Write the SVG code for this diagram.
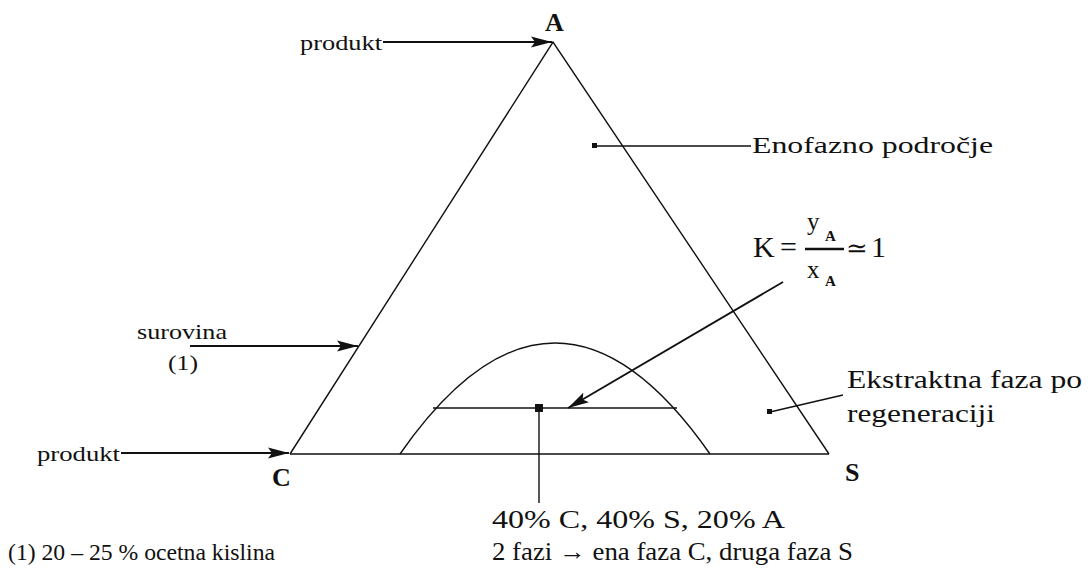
<svg xmlns="http://www.w3.org/2000/svg" width="1090" height="578" viewBox="0 0 1090 578">
<style>
  .t { font-family: "Liberation Serif", "Times New Roman", serif; fill: #111; }
  .b { font-weight: bold; }
  .ln { stroke: #111; stroke-width: 1.4; fill: none; }
  .ar { stroke: #111; stroke-width: 1.8; fill: none; marker-end: url(#ah); }
</style>
<defs>
  <marker id="ah" markerWidth="22" markerHeight="12" refX="21" refY="6" orient="auto" markerUnits="userSpaceOnUse">
    <path d="M0,0.5 L21,6 L0,11.5 L4,6 z" fill="#111"/>
  </marker>
</defs>
<rect width="1090" height="578" fill="#fff"/>

<g id="triangle">
  <polyline class="ln" points="290,454 553,42 829,454"/>
  <line class="ln" x1="290" y1="454" x2="829" y2="454"/>
</g>
<g id="binodal">
  <path class="ln" d="M400,454 Q555,232 710,454"/>
  <line class="ln" x1="433" y1="408" x2="677" y2="408"/>
  <rect x="535" y="404" width="8" height="8" fill="#111"/>
</g>

<g id="vertex-A"><text class="t b" x="545" y="31" font-size="26">A</text></g>
<g id="vertex-C"><text class="t b" x="272" y="486" font-size="26">C</text></g>
<g id="vertex-S"><text class="t b" x="845" y="481" font-size="26">S</text></g>

<g id="produkt-top"><text class="t" x="300" y="50" font-size="21" textLength="82" lengthAdjust="spacingAndGlyphs">produkt</text></g>
<g id="produkt-left"><text class="t" x="37" y="461" font-size="21" textLength="83" lengthAdjust="spacingAndGlyphs">produkt</text></g>
<g id="surovina">
  <text class="t" x="137" y="339" font-size="21" textLength="90" lengthAdjust="spacingAndGlyphs">surovina</text>
  <text class="t" x="168" y="370" font-size="21" textLength="30" lengthAdjust="spacingAndGlyphs">(1)</text>
</g>
<g id="enofazno"><text class="t" x="752" y="153" font-size="23" textLength="241" lengthAdjust="spacingAndGlyphs">Enofazno področje</text></g>
<g id="ekstraktna">
  <text class="t" x="847" y="388" font-size="25" textLength="235" lengthAdjust="spacingAndGlyphs">Ekstraktna faza po</text>
  <text class="t" x="847" y="422" font-size="25" textLength="148" lengthAdjust="spacingAndGlyphs">regeneraciji</text>
</g>
<g id="k-formula">
  <text class="t" x="753" y="257" font-size="30">K</text>
  <text class="t" x="780" y="257" font-size="30">=</text>
  <line x1="805" y1="249" x2="844" y2="249" stroke="#111" stroke-width="2.5"/>
  <text class="t" x="807" y="230" font-size="25">y</text>
  <text class="t b" x="825" y="241" font-size="15">A</text>
  <text class="t" x="807" y="278" font-size="25">x</text>
  <text class="t b" x="825" y="286" font-size="15">A</text>
  <text x="846" y="257" font-size="26" style="font-family: 'DejaVu Serif', 'Liberation Serif', serif; fill:#111;">≃</text>
  <text class="t" x="871" y="257" font-size="30">1</text>
</g>
<g id="composition">
  <text class="t" x="492" y="528" font-size="25" textLength="293" lengthAdjust="spacingAndGlyphs">40% C, 40% S, 20% A</text>
  <text class="t" x="492" y="560" font-size="25" textLength="361" lengthAdjust="spacingAndGlyphs">2 fazi → ena faza C, druga faza S</text>
</g>
<g id="footnote"><text class="t" x="8" y="560" font-size="24" textLength="267" lengthAdjust="spacingAndGlyphs">(1) 20 – 25 % ocetna kislina</text></g>

<g id="connectors">
  <line class="ar" x1="383" y1="42" x2="552" y2="42"/>
  <line class="ar" x1="121" y1="453" x2="289" y2="453"/>
  <line class="ar" x1="190" y1="346" x2="358" y2="346"/>
  <line class="ar" x1="783" y1="282" x2="568" y2="408"/>
  <line class="ln" x1="595" y1="146" x2="751" y2="146"/>
  <rect x="592" y="143" width="5" height="5" fill="#111"/>
  <line class="ln" x1="770" y1="412" x2="843" y2="395"/>
  <rect x="767" y="409" width="5" height="5" fill="#111"/>
  <line class="ln" x1="539" y1="408" x2="539" y2="503"/>
</g>
</svg>
